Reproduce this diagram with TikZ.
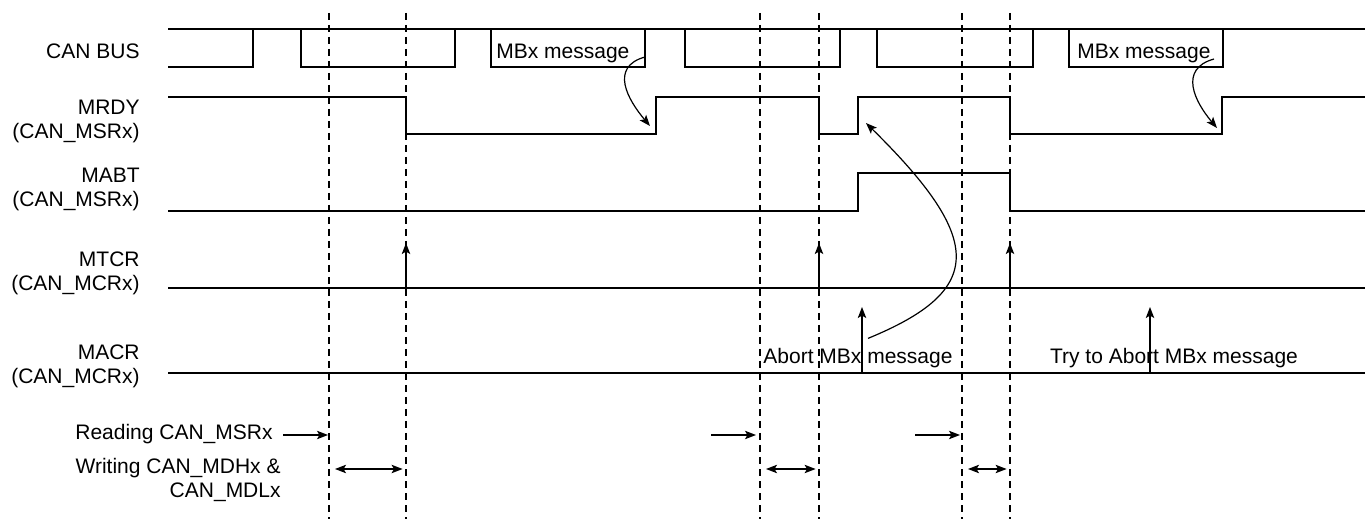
\documentclass[tikz,border=0pt]{standalone}
\usepackage{fontspec}
\setmainfont{Liberation Sans}
\usetikzlibrary{arrows.meta}
\tikzset{
  lbl/.style={inner sep=0pt,font=\fontsize{10.5}{12}\selectfont,align=right},
  wave/.style={line width=1.15pt,line join=miter},
  guide-line/.style={line width=0.6pt,dash pattern=on 3.5pt off 2.5pt},
  arrow/.style={-{Stealth[length=5.5pt,width=4.2pt,inset=1.2pt]},line width=0.6pt},
  arrow-both/.style={{Stealth[length=5.5pt,width=4.2pt,inset=1.2pt]}-{Stealth[length=5.5pt,width=4.2pt,inset=1.2pt]},
    line width=0.6pt,shorten <=3pt,shorten >=1.7pt},
}
\begin{document}
\begin{tikzpicture}[x=0.5pt,y=-0.5pt]
  \useasboundingbox (0,0) rectangle (1365,523);
  % signal names
  \node[lbl,anchor=base east] (canbus) at (140,59) {CAN BUS};
  \node[lbl,anchor=east] (mrdy) at (140,121) {MRDY\\(CAN\_MSRx)};
  \node[lbl,anchor=east] (mabt) at (140,189) {MABT\\(CAN\_MSRx)};
  \node[lbl,anchor=east] (mtcr) at (140,273) {MTCR\\(CAN\_MCRx)};
  \node[lbl,anchor=east] (macr) at (140,366) {MACR\\(CAN\_MCRx)};
  \node[lbl,anchor=base east] (reading) at (273,440) {Reading CAN\_MSRx};
  \node[lbl,anchor=east] (writing) at (281,480) {Writing CAN\_MDHx \&\\CAN\_MDLx};
  % dashed time marks
  \foreach \x/\n in {329/d1,406/d2,760/d3,819/d4,962/d5,1010/d6} {
    \coordinate (\n-top) at (\x,13);
    \coordinate (\n-bot) at (\x,519);
    \draw[guide-line] (\n-top) -- (\n-bot);
  }
  % CAN bus frames
  \draw[wave] (168,29) -- (1365,29);
  \draw[wave] (168,67) -- (253,67) -- (253,29);
  \foreach \a/\b in {301/455,491/645,685/840,877/1033,1069/1223}
    \draw[wave] (\a,29) -- (\a,67) -- (\b,67) -- (\b,29);
  \node[lbl,anchor=base west] (msgA) at (496,59) {MBx message};
  \node[lbl,anchor=base west] (msgB) at (1077,59) {MBx message};
  % MRDY, MABT
  \draw[wave] (168,97) -| (406,134) -| (656,97) -| (819,134) -| (858,97)
    -| (1010,134) -| (1222,97) -- (1365,97);
  \draw[wave] (168,211) -| (858,173) -| (1010,211) -- (1365,211);
  % MTCR, MACR
  \draw[wave] (168,288) -- (1365,288);
  \draw[wave] (168,373) -- (1365,373);
  \foreach \x/\n in {406/t1,819/t2,1010/t3} {
    \coordinate (\n-foot) at (\x,288);
    \coordinate (\n-head) at (\x,243);
    \draw[arrow] (\n-foot) -- (\n-head);
  }
  \node[lbl,anchor=base] (abort) at (858,364) {Abort MBx message};
  \node[lbl,anchor=base] (tryabort) at (1174,364) {Try to Abort MBx message};
  \foreach \x/\n in {862/a1,1150/a2} {
    \coordinate (\n-foot) at (\x,373);
    \coordinate (\n-head) at (\x,307);
    \draw[arrow] (\n-foot) -- (\n-head);
  }
  % causal arrows
  \coordinate (msgA-tail) at (645,57);
  \coordinate (msgA-tip) at (650,126);
  \coordinate (msgB-tail) at (1214,59);
  \coordinate (msgB-tip) at (1217,128);
  \coordinate (abt-tip) at (866,123);
  \draw[arrow] (msgA-tail) .. controls +(-36,10) and +(-22,-26) .. (msgA-tip);
  \draw[arrow] (msgB-tail) .. controls +(-36,10) and +(-22,-26) .. (msgB-tip);
  \draw[arrow] ([xshift=5pt,yshift=5pt]abort.north) .. controls +(117,-48) and +(119,117) .. (abt-tip);
  % CPU accesses
  \coordinate (r1) at (329,435);
  \coordinate (r2s) at (711,435);
  \coordinate (r3s) at (915,435);
  \draw[arrow,shorten <=5pt,shorten >=0.5pt] (reading.east |- r1) -- (r1);
  \draw[arrow,shorten >=2pt] (r2s) -- (d3-top |- r2s);
  \draw[arrow,shorten >=1pt] (r3s) -- (d5-top |- r3s);
  \coordinate (w) at (0,469);
  \draw[arrow-both] (d1-top |- w) -- (d2-top |- w);
  \draw[arrow-both] (d3-top |- w) -- (d4-top |- w);
  \draw[arrow-both] (d5-top |- w) -- (d6-top |- w);
\end{tikzpicture}
\end{document}
